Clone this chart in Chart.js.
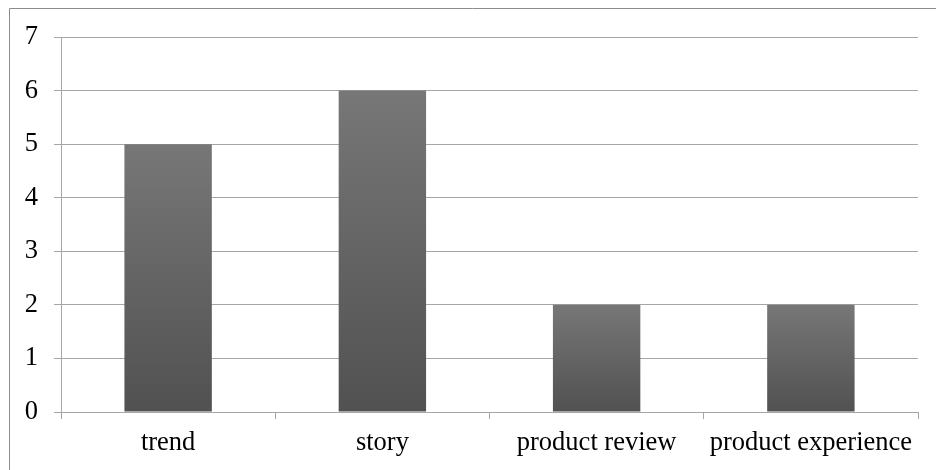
<!DOCTYPE html>
<html>
<head>
<meta charset="utf-8">
<script src="https://cdn.jsdelivr.net/npm/chart.js@4.4.1/dist/chart.umd.min.js"></script>
<style>
html,body{margin:0;padding:0;background:#fff;}
#wrap{width:936px;height:470px;position:relative;}
</style>
</head>
<body>
<div id="wrap"><canvas id="c" width="936" height="470"></canvas></div>
<script>
const categories = ["trend", "story", "product review", "product experience"];
const values = [5, 6, 2, 2];
const yMin = 0, yMax = 7, yStep = 1;

const borderPlugin = {
  id: 'outerBorder',
  beforeDraw(chart) {
    const ctx = chart.ctx;
    ctx.save();
    ctx.strokeStyle = '#8c8c8c';
    ctx.lineWidth = 1;
    ctx.beginPath();
    ctx.moveTo(9.5, 470);
    ctx.lineTo(9.5, 8.5);
    ctx.lineTo(936, 8.5);
    ctx.stroke();
    ctx.restore();
  }
};

function barGradient(context) {
  const chart = context.chart;
  if (!chart.chartArea || !chart.scales.y) return '#606060';
  const ys = chart.scales.y;
  const v = context.raw;
  if (v === undefined) return '#606060';
  const top = ys.getPixelForValue(v);
  const bot = ys.getPixelForValue(0);
  const g = chart.ctx.createLinearGradient(0, top, 0, bot);
  g.addColorStop(0, '#777777');
  g.addColorStop(1, '#515151');
  return g;
}

new Chart(document.getElementById('c'), {
  type: 'bar',
  data: {
    labels: categories,
    datasets: [{
      data: values,
      backgroundColor: barGradient,
      borderWidth: 0,
      categoryPercentage: 1.0,
      barPercentage: 0.408
    }]
  },
  options: {
    responsive: false,
    animation: false,
    devicePixelRatio: 1,
    layout: { padding: { left: 0, top: 37, right: 18, bottom: 0 } },
    plugins: { legend: { display: false }, tooltip: { enabled: false } },
    scales: {
      x: {
        grid: { display: true, drawOnChartArea: false, drawTicks: true, tickLength: 7, color: '#a6a6a6', offset: true },
        border: { display: true, color: '#a6a6a6', width: 1 },
        ticks: { color: '#000', font: { family: 'Liberation Serif', size: 26.5 }, padding: 8, maxRotation: 0, autoSkip: false },
        afterFit(scale) { scale.height = 58; }
      },
      y: {
        min: yMin, max: yMax,
        grid: { color: '#a6a6a6', tickLength: 7, drawTicks: true },
        border: { display: true, color: '#a6a6a6', width: 1 },
        ticks: { stepSize: yStep, color: '#000', font: { family: 'Liberation Serif', size: 26.5 }, padding: 16 },
        afterFit(scale) { scale.width = 61; }
      }
    }
  },
  plugins: [borderPlugin]
});
</script>
</body>
</html>
